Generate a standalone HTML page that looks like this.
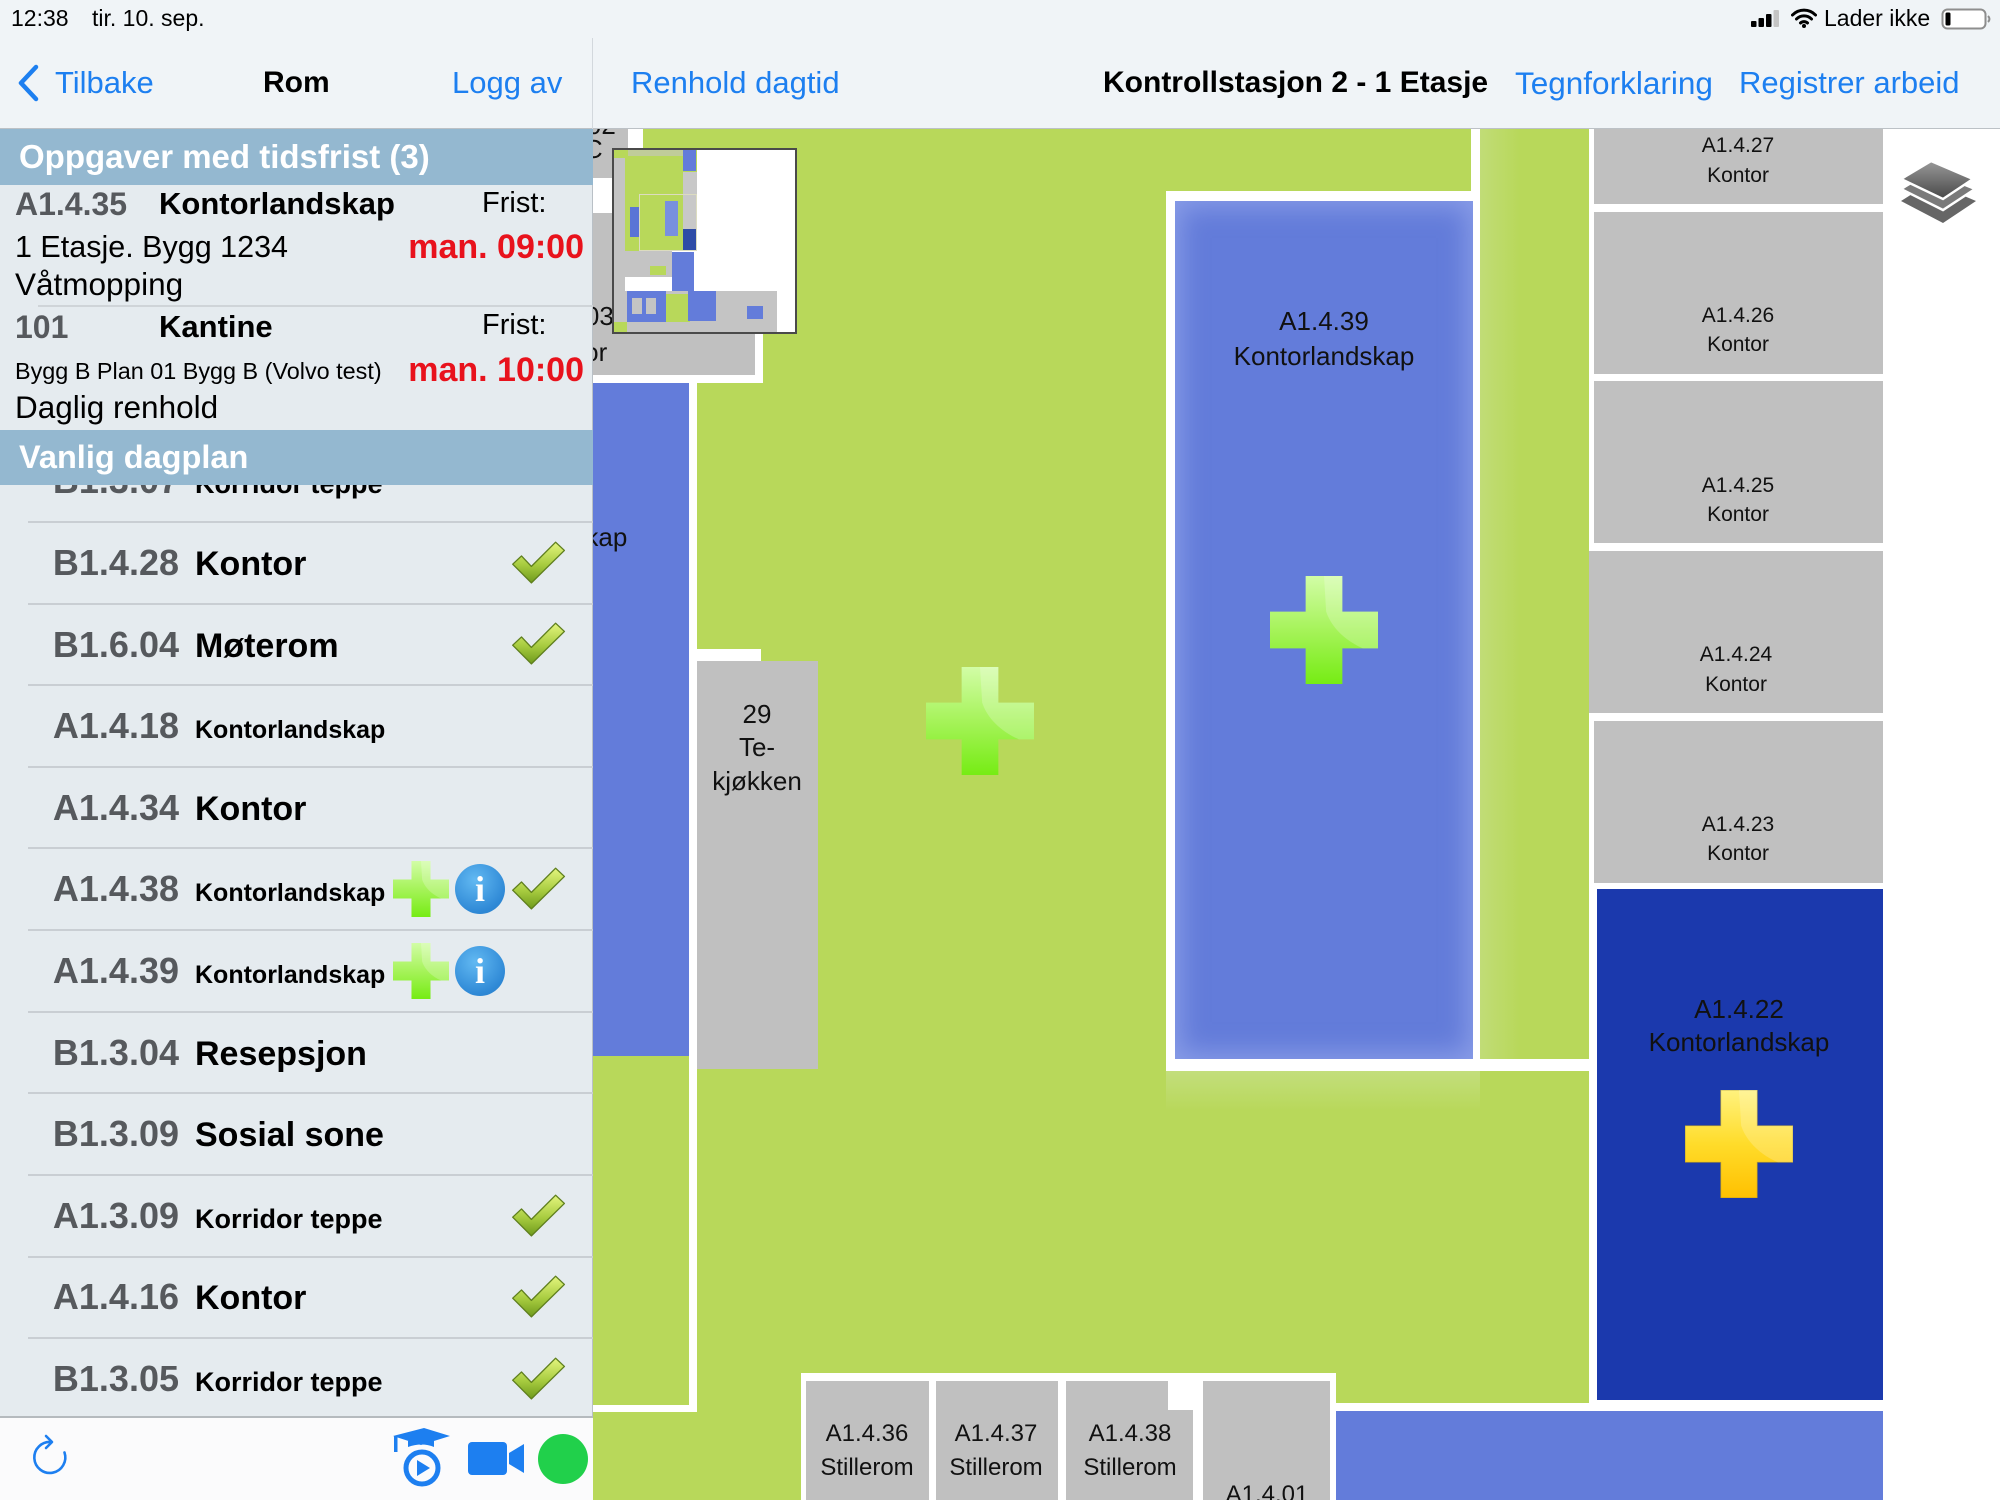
<!DOCTYPE html>
<html><head><meta charset="utf-8">
<style>
*{margin:0;padding:0;box-sizing:border-box}
html,body{width:2000px;height:1500px;overflow:hidden;background:#fff;font-family:"Liberation Sans",sans-serif}
.a{position:absolute}
.t{position:absolute;white-space:nowrap}
.nav{font-size:31px;line-height:40px;top:63px;color:#1d7ff0}
.sep{position:absolute;left:28px;width:565px;height:2px;background:#c9ced3}
.row{position:absolute;left:0;width:593px;height:82px;line-height:82px;white-space:nowrap}
.code{display:inline-block;width:179px;text-align:right;font-weight:bold;font-size:36px;color:#56595d}
.nm{margin-left:16px;font-weight:bold;font-size:34px;color:#000}
.nm.s{font-size:25px}
.nm.k{font-size:27px}
.chk{position:absolute;left:510px;width:56px;height:44px}
.lp{position:absolute;left:393px;width:56px;height:56px}
.inf{position:absolute;left:455px;width:50px;height:50px;border-radius:50%;background:radial-gradient(circle at 40% 32%,#62b9f2,#2f89d6 70%,#2a7cc4);color:#fff;font-family:"Liberation Serif",serif;font-weight:bold;font-size:36px;line-height:50px;text-align:center}
#map{position:absolute;left:593px;top:129px;width:1407px;height:1371px;overflow:hidden;background:#b8d85a}
.w{position:absolute;background:#fff}
.g{position:absolute;background:#c0c0c0}
.b{position:absolute;background:#637cda}
.lb{position:absolute;width:300px;text-align:center;font-size:26px;line-height:34px;color:#111;white-space:nowrap}
.lr{position:absolute;width:300px;text-align:center;font-size:21px;line-height:30px;color:#111;white-space:nowrap}
.mm div{position:absolute}
</style></head><body>

<svg width="0" height="0" style="position:absolute">
<defs>
<linearGradient id="gP" x1="0" y1="0" x2="0" y2="1"><stop offset="0" stop-color="#d2fda6"/><stop offset="0.5" stop-color="#a6f35a"/><stop offset="1" stop-color="#76ec14"/></linearGradient>
<linearGradient id="yP" x1="0" y1="0" x2="0" y2="1"><stop offset="0" stop-color="#fff27e"/><stop offset="0.5" stop-color="#ffdc2a"/><stop offset="1" stop-color="#ffc000"/></linearGradient>
<linearGradient id="gC" x1="0" y1="0" x2="0" y2="1"><stop offset="0" stop-color="#e4f57e"/><stop offset="0.55" stop-color="#a8cc40"/><stop offset="1" stop-color="#6e9a1c"/></linearGradient>
<linearGradient id="lG" x1="0" y1="0" x2="0" y2="1"><stop offset="0" stop-color="#9a9a9a"/><stop offset="1" stop-color="#474747"/></linearGradient>
</defs>
</svg>

<!-- top bars -->
<div class="a" style="left:0;top:0;width:2000px;height:129px;background:#f0f4f7"></div>
<div class="a" style="left:0;top:128px;width:2000px;height:2px;background:#bcc1c6"></div>
<div class="a" style="left:592px;top:38px;width:1px;height:91px;background:#d3d8dd"></div>

<div class="t" style="left:11px;top:3px;font-size:23px;line-height:30px;color:#000">12:38</div>
<div class="t" style="left:92px;top:3px;font-size:23px;line-height:30px;color:#000">tir. 10. sep.</div>

<svg class="a" style="left:1751px;top:8px" width="32" height="20" viewBox="0 0 32 20">
<rect x="0" y="13" width="5.5" height="6" rx="1" fill="#000"/>
<rect x="7.5" y="10" width="5.5" height="9" rx="1" fill="#000"/>
<rect x="15" y="6" width="5.5" height="13" rx="1" fill="#000"/>
<rect x="22.5" y="2" width="5.5" height="17" rx="1" fill="#c4c4c4"/>
</svg>
<svg class="a" style="left:1791px;top:8px" width="26" height="20" viewBox="0 0 26 20">
<path d="M1.5 7 A16 16 0 0 1 24.5 7" stroke="#000" stroke-width="3" fill="none" stroke-linecap="round"/>
<path d="M5.5 11 A10.5 10.5 0 0 1 20.5 11" stroke="#000" stroke-width="3" fill="none" stroke-linecap="round"/>
<path d="M9.5 15 A5 5 0 0 1 16.5 15" stroke="#000" stroke-width="3" fill="none" stroke-linecap="round"/>
<circle cx="13" cy="18" r="2" fill="#000"/>
</svg>
<div class="t" style="left:1824px;top:3px;font-size:23px;line-height:30px;color:#000">Lader ikke</div>
<svg class="a" style="left:1941px;top:8px" width="52" height="22" viewBox="0 0 52 22">
<rect x="1.5" y="1.5" width="43" height="19" rx="5" fill="#fff" stroke="#8e8e8e" stroke-width="2"/>
<rect x="4.5" y="4.5" width="5" height="13" rx="1.5" fill="#000"/>
<path d="M47 8 Q50 11 47 14" stroke="#8e8e8e" stroke-width="2" fill="none"/>
</svg>

<!-- nav -->
<svg class="a" style="left:14px;top:62px" width="30" height="42" viewBox="0 0 30 42">
<polyline points="22,5 7,21 22,37" stroke="#1d7ff0" stroke-width="4.5" fill="none" stroke-linecap="round" stroke-linejoin="round"/>
</svg>
<div class="t nav" style="left:55px">Tilbake</div>
<div class="t nav" style="left:263px;color:#000;font-weight:bold;font-size:30px">Rom</div>
<div class="t nav" style="left:452px">Logg av</div>
<div class="t nav" style="left:631px">Renhold dagtid</div>
<div class="t nav" style="left:1103px;color:#000;font-weight:bold;font-size:30px">Kontrollstasjon 2 - 1 Etasje</div>
<div class="t nav" style="left:1515px;font-size:31.5px">Tegnforklaring</div>
<div class="t nav" style="left:1739px">Registrer arbeid</div>

<!-- left panel -->
<div class="a" style="left:0;top:130px;width:593px;height:1286px;background:#e5ebef;overflow:hidden">
</div>
<div class="a" style="left:592px;top:130px;width:1px;height:1370px;background:#b9c0c6"></div>

<!-- tasks -->
<div class="t" style="left:15px;top:184px;font-size:32px;line-height:40px;font-weight:bold;color:#56595d">A1.4.35</div>
<div class="t" style="left:159px;top:184px;font-size:31px;line-height:40px;font-weight:bold;color:#000">Kontorlandskap</div>
<div class="t" style="left:482px;top:183px;font-size:29px;line-height:40px;color:#000">Frist:</div>
<div class="t" style="left:15px;top:227px;font-size:30.5px;line-height:40px;color:#000">1 Etasje. Bygg 1234</div>
<div class="t" style="left:384px;width:200px;text-align:right;top:227px;font-size:34px;line-height:40px;font-weight:bold;color:#e8121c">man. 09:00</div>
<div class="t" style="left:15px;top:264px;font-size:31.5px;line-height:40px;color:#000">Våtmopping</div>
<div class="a" style="left:38px;top:305px;width:555px;height:2px;background:#cfd4d8"></div>

<div class="t" style="left:15px;top:307px;font-size:32px;line-height:40px;font-weight:bold;color:#56595d">101</div>
<div class="t" style="left:159px;top:307px;font-size:31px;line-height:40px;font-weight:bold;color:#000">Kantine</div>
<div class="t" style="left:482px;top:305px;font-size:29px;line-height:40px;color:#000">Frist:</div>
<div class="t" style="left:15px;top:353px;font-size:23.4px;line-height:36px;color:#000">Bygg B Plan 01 Bygg B (Volvo test)</div>
<div class="t" style="left:384px;width:200px;text-align:right;top:350px;font-size:34px;line-height:40px;font-weight:bold;color:#e8121c">man. 10:00</div>
<div class="t" style="left:15px;top:387px;font-size:31.5px;line-height:40px;color:#000">Daglig renhold</div>

<!-- list rows -->
<div class="row" style="top:440px"><span class="code">B1.3.07</span><span class="nm k">Korridor teppe</span></div>

<div class="sep" style="top:521px"></div>
<div class="row" style="top:522px"><span class="code">B1.4.28</span><span class="nm">Kontor</span></div>
<div class="sep" style="top:603px"></div>
<div class="row" style="top:603.6px"><span class="code">B1.6.04</span><span class="nm">Møterom</span></div>
<div class="sep" style="top:684px"></div>
<div class="row" style="top:685.2px"><span class="code">A1.4.18</span><span class="nm s">Kontorlandskap</span></div>
<div class="sep" style="top:766px"></div>
<div class="row" style="top:766.8px"><span class="code">A1.4.34</span><span class="nm">Kontor</span></div>
<div class="sep" style="top:847px"></div>
<div class="row" style="top:848.4px"><span class="code">A1.4.38</span><span class="nm s">Kontorlandskap</span></div>
<div class="sep" style="top:929px"></div>
<div class="row" style="top:930px"><span class="code">A1.4.39</span><span class="nm s">Kontorlandskap</span></div>
<div class="sep" style="top:1011px"></div>
<div class="row" style="top:1011.6px"><span class="code">B1.3.04</span><span class="nm">Resepsjon</span></div>
<div class="sep" style="top:1092px"></div>
<div class="row" style="top:1093.2px"><span class="code">B1.3.09</span><span class="nm">Sosial sone</span></div>
<div class="sep" style="top:1174px"></div>
<div class="row" style="top:1174.8px"><span class="code">A1.3.09</span><span class="nm k">Korridor teppe</span></div>
<div class="sep" style="top:1256px"></div>
<div class="row" style="top:1256.4px"><span class="code">A1.4.16</span><span class="nm">Kontor</span></div>
<div class="sep" style="top:1337px"></div>
<div class="row" style="top:1338px"><span class="code">B1.3.05</span><span class="nm k">Korridor teppe</span></div>

<!-- checkmarks -->
<svg class="chk" style="top:540px" viewBox="0 0 50 40"><polygon points="2,22 10,14.5 19,24 41,2 49,9.5 19,39" fill="url(#gC)" stroke="#5f7f1e" stroke-width="1.2" stroke-linejoin="round"/></svg>
<svg class="chk" style="top:621px" viewBox="0 0 50 40"><polygon points="2,22 10,14.5 19,24 41,2 49,9.5 19,39" fill="url(#gC)" stroke="#5f7f1e" stroke-width="1.2" stroke-linejoin="round"/></svg>
<svg class="chk" style="top:866px" viewBox="0 0 50 40"><polygon points="2,22 10,14.5 19,24 41,2 49,9.5 19,39" fill="url(#gC)" stroke="#5f7f1e" stroke-width="1.2" stroke-linejoin="round"/></svg>
<svg class="chk" style="top:1193px" viewBox="0 0 50 40"><polygon points="2,22 10,14.5 19,24 41,2 49,9.5 19,39" fill="url(#gC)" stroke="#5f7f1e" stroke-width="1.2" stroke-linejoin="round"/></svg>
<svg class="chk" style="top:1274px" viewBox="0 0 50 40"><polygon points="2,22 10,14.5 19,24 41,2 49,9.5 19,39" fill="url(#gC)" stroke="#5f7f1e" stroke-width="1.2" stroke-linejoin="round"/></svg>
<svg class="chk" style="top:1356px" viewBox="0 0 50 40"><polygon points="2,22 10,14.5 19,24 41,2 49,9.5 19,39" fill="url(#gC)" stroke="#5f7f1e" stroke-width="1.2" stroke-linejoin="round"/></svg>

<!-- list plus + info -->
<svg class="lp" style="top:861px" viewBox="0 0 100 100"><path d="M33 0H67V33H100V67H67V100H33V67H0V33H33Z" fill="url(#gP)"/><path d="M50 0H67V33H100V67H86C70 60 57 48 52 33Z" fill="#fff" opacity=".22"/></svg>
<div class="inf" style="top:864px">i</div>
<svg class="lp" style="top:943px" viewBox="0 0 100 100"><path d="M33 0H67V33H100V67H67V100H33V67H0V33H33Z" fill="url(#gP)"/><path d="M50 0H67V33H100V67H86C70 60 57 48 52 33Z" fill="#fff" opacity=".22"/></svg>
<div class="inf" style="top:946px">i</div>

<!-- bands -->
<div class="a" style="left:0;top:129px;width:593px;height:56px;background:#94b8d0"></div>
<div class="t" style="left:19px;top:137px;font-size:33px;line-height:40px;font-weight:bold;color:#fff">Oppgaver med tidsfrist (3)</div>
<div class="a" style="left:0;top:430px;width:593px;height:55px;background:#94b8d0"></div>
<div class="t" style="left:19px;top:437px;font-size:32.5px;line-height:40px;font-weight:bold;color:#fff">Vanlig dagplan</div>

<!-- toolbar -->
<div class="a" style="left:0;top:1416px;width:593px;height:84px;background:#fbfbfc;border-top:2px solid #b5babe"></div>
<svg class="a" style="left:29px;top:1433px" width="44" height="48" viewBox="0 0 44 48">
<path d="M35.5 19.5 A15.5 15.5 0 1 1 22 9" stroke="#1d7ff0" stroke-width="2.6" fill="none" stroke-linecap="round"/>
<polyline points="17,3 23,9 17,15" stroke="#1d7ff0" stroke-width="2.6" fill="none" stroke-linecap="round" stroke-linejoin="round"/>
</svg>
<svg class="a" style="left:390px;top:1426px" width="62" height="64" viewBox="0 0 62 64">
<polygon points="3,10 34,2 60,10 31,19" fill="#1d7ff0"/>
<rect x="4" y="10" width="3.5" height="16" fill="#1d7ff0"/>
<path d="M18 15 L18 21 Q32 16 44 21 L44 15 Z" fill="#1d7ff0"/>
<circle cx="32" cy="42" r="16" stroke="#1d7ff0" stroke-width="5" fill="none"/>
<polygon points="27,34 27,50 40,42" fill="#1d7ff0"/>
</svg>
<svg class="a" style="left:467px;top:1441px" width="60" height="36" viewBox="0 0 60 36">
<rect x="1" y="1" width="39" height="33" rx="4" fill="#1d7ff0"/>
<polygon points="42,12 57,3 57,32 42,23" fill="#1d7ff0"/>
</svg>
<div class="a" style="left:538px;top:1434px;width:50px;height:50px;border-radius:50%;background:#21d04b"></div>

<!-- MAP -->
<div id="map">
  <div class="w" style="left:1290px;top:0;width:117px;height:1371px"></div>

  <!-- top-left rooms -->
  <div class="w" style="left:-33px;top:0;width:83px;height:56px"></div>
  <div class="g" style="left:-33px;top:0;width:68px;height:49px"></div>
  <div class="w" style="left:-33px;top:49px;width:203px;height:205px"></div>
  <div class="g" style="left:-33px;top:84px;width:195px;height:162px"></div>
  <div class="lb" style="left:-172px;top:-21px">A1.4.02</div>
  <div class="lb" style="left:-162px;top:3px">WC</div>
  <div class="lb" style="left:-174px;top:170px">A1.4.03</div>
  <div class="lb" style="left:-174px;top:206px">Kontor</div>

  <!-- left blue strip -->
  <div class="b" style="left:0;top:254px;width:96px;height:673px"></div>
  <div class="lb" style="left:-206px;top:357px">A1.4.33</div>
  <div class="lb" style="left:-206px;top:391px">Kontorlandskap</div>
  <div class="w" style="left:96px;top:246px;width:8px;height:1037px"></div>
  <div class="w" style="left:-33px;top:1276px;width:137px;height:7px"></div>

  <!-- 29 Te-kjøkken -->
  <div class="w" style="left:104px;top:520px;width:64px;height:12px"></div>
  <div class="g" style="left:104px;top:532px;width:121px;height:408px"></div>
  <div class="lb" style="left:14px;top:568px">29</div>
  <div class="lb" style="left:14px;top:601px">Te-</div>
  <div class="lb" style="left:14px;top:635px">kjøkken</div>

  <!-- big plus -->
  <svg class="a" style="left:333px;top:538px" width="108" height="108" viewBox="0 0 100 100"><path d="M33 0H67V33H100V67H67V100H33V67H0V33H33Z" fill="url(#gP)"/><path d="M50 0H67V33H100V67H86C70 60 57 48 52 33Z" fill="#fff" opacity=".22"/></svg>

  <!-- A1.4.39 box -->
  <div class="w" style="left:878px;top:0;width:9px;height:68px"></div>
  <div class="w" style="left:573px;top:62px;width:314px;height:878px"></div>
  <div class="b" style="left:582px;top:72px;width:298px;height:858px;box-shadow:inset 0 0 26px 6px rgba(175,190,245,.5)"></div>
  <div class="lb" style="left:581px;top:175px">A1.4.39</div>
  <div class="lb" style="left:581px;top:210px">Kontorlandskap</div>
  <svg class="a" style="left:677px;top:447px" width="108" height="108" viewBox="0 0 100 100"><path d="M33 0H67V33H100V67H67V100H33V67H0V33H33Z" fill="url(#gP)"/><path d="M50 0H67V33H100V67H86C70 60 57 48 52 33Z" fill="#fff" opacity=".22"/></svg>
  <div class="w" style="left:573px;top:930px;width:431px;height:12px"></div>
  <div class="a" style="left:573px;top:942px;width:314px;height:40px;background:linear-gradient(#c3de7c,rgba(184,216,90,0))"></div>

  <!-- green column glow -->
  <div class="a" style="left:887px;top:0;width:40px;height:930px;background:linear-gradient(90deg,#c1dc77,rgba(184,216,90,0))"></div>

  <!-- right rooms -->
  <div class="w" style="left:996px;top:0;width:294px;height:1282px"></div>
  <div class="g" style="left:1001px;top:0;width:289px;height:75px"></div>
  <div class="g" style="left:1001px;top:83px;width:289px;height:162px"></div>
  <div class="g" style="left:1001px;top:252px;width:289px;height:162px"></div>
  <div class="g" style="left:996px;top:422px;width:294px;height:162px"></div>
  <div class="g" style="left:1001px;top:592px;width:289px;height:162px"></div>
  <div class="a" style="left:1004px;top:760px;width:286px;height:511px;background:#1b39ad"></div>
  <div class="lr" style="left:995px;top:2px">A1.4.27</div>
  <div class="lr" style="left:995px;top:32px">Kontor</div>
  <div class="lr" style="left:995px;top:172px">A1.4.26</div>
  <div class="lr" style="left:995px;top:201px">Kontor</div>
  <div class="lr" style="left:995px;top:342px">A1.4.25</div>
  <div class="lr" style="left:995px;top:371px">Kontor</div>
  <div class="lr" style="left:993px;top:511px">A1.4.24</div>
  <div class="lr" style="left:993px;top:541px">Kontor</div>
  <div class="lr" style="left:995px;top:681px">A1.4.23</div>
  <div class="lr" style="left:995px;top:710px">Kontor</div>
  <div class="lb" style="left:996px;top:863px">A1.4.22</div>
  <div class="lb" style="left:996px;top:896px">Kontorlandskap</div>
  <svg class="a" style="left:1092px;top:961px" width="108" height="108" viewBox="0 0 100 100"><path d="M33 0H67V33H100V67H67V100H33V67H0V33H33Z" fill="url(#yP)" stroke="#8a7a3a" stroke-width="1" stroke-opacity=".5"/><path d="M50 0H67V33H100V67H86C70 60 57 48 52 33Z" fill="#fff" opacity=".2"/></svg>

  <!-- bottom right blue -->
  <div class="w" style="left:742px;top:1274px;width:548px;height:8px"></div>
  <div class="b" style="left:742px;top:1282px;width:548px;height:89px"></div>

  <!-- stillerom -->
  <div class="w" style="left:208px;top:1244px;width:535px;height:127px"></div>
  <div class="g" style="left:213px;top:1252px;width:123px;height:119px"></div>
  <div class="g" style="left:343px;top:1252px;width:122px;height:119px"></div>
  <div class="g" style="left:473px;top:1252px;width:127px;height:119px"></div>
  <div class="w" style="left:575px;top:1252px;width:25px;height:29px"></div>
  <div class="g" style="left:610px;top:1252px;width:127px;height:119px"></div>
  <div class="lb" style="left:124px;top:1288px;font-size:24px">A1.4.36</div>
  <div class="lb" style="left:124px;top:1322px;font-size:24px">Stillerom</div>
  <div class="lb" style="left:253px;top:1288px;font-size:24px">A1.4.37</div>
  <div class="lb" style="left:253px;top:1322px;font-size:24px">Stillerom</div>
  <div class="lb" style="left:387px;top:1288px;font-size:24px">A1.4.38</div>
  <div class="lb" style="left:387px;top:1322px;font-size:24px">Stillerom</div>
  <div class="lb" style="left:524px;top:1349px;font-size:24px">A1.4.01</div>

  <!-- minimap -->
  <div class="a mm" style="left:19px;top:19px;width:185px;height:186px;background:#fff;border:2px solid #4a4a4a;overflow:hidden">
    <div style="left:0;top:0;width:83px;height:101px;background:#b8d85a"></div>
    <div style="left:0;top:8px;width:11px;height:133px;background:#c4c4c4"></div>
    <div style="left:14px;top:0;width:60px;height:6px;background:#c4c4c4;opacity:.6"></div>
    <div style="left:69px;top:0;width:13px;height:21px;background:#637cda"></div>
    <div style="left:69px;top:22px;width:14px;height:57px;background:#c8c8c8"></div>
    <div style="left:16px;top:57px;width:9px;height:30px;background:#5a74d6"></div>
    <div style="left:51px;top:51px;width:13px;height:35px;background:#7890de"></div>
    <div style="left:69px;top:79px;width:13px;height:22px;background:#2e4ca6"></div>
    <div style="left:25px;top:44px;width:58px;height:57px;border:1px solid #dcdcc0"></div>
    <div style="left:11px;top:101px;width:47px;height:26px;background:#c4c4c4"></div>
    <div style="left:36px;top:116px;width:16px;height:9px;background:#b8d85a"></div>
    <div style="left:58px;top:102px;width:22px;height:39px;background:#637cda"></div>
    <div style="left:0;top:141px;width:163px;height:41px;background:#c4c4c4"></div>
    <div style="left:13px;top:141px;width:39px;height:31px;background:#637cda"></div>
    <div style="left:18px;top:148px;width:10px;height:16px;background:#c4c4c4"></div>
    <div style="left:32px;top:148px;width:10px;height:16px;background:#c4c4c4"></div>
    <div style="left:52px;top:144px;width:24px;height:28px;background:#b8d85a"></div>
    <div style="left:74px;top:141px;width:28px;height:30px;background:#637cda"></div>
    <div style="left:133px;top:156px;width:16px;height:13px;background:#637cda"></div>
    <div style="left:0;top:172px;width:13px;height:10px;background:#b8d85a"></div>
  </div>

  <!-- layers icon -->
  <svg class="a" style="left:1307px;top:31px" width="78" height="66" viewBox="0 0 78 66">
    <polygon points="31,22 1,41 43,63 76,41" fill="#666"/>
    <polygon points="31,11 1,29 43,50 75,29" fill="#7a7a7a" stroke="#fff" stroke-width="2.5"/>
    <polygon points="31,1 1,19 43,39 73,19" fill="url(#lG)" stroke="#fff" stroke-width="2.5"/>
  </svg>
</div>

</body></html>
